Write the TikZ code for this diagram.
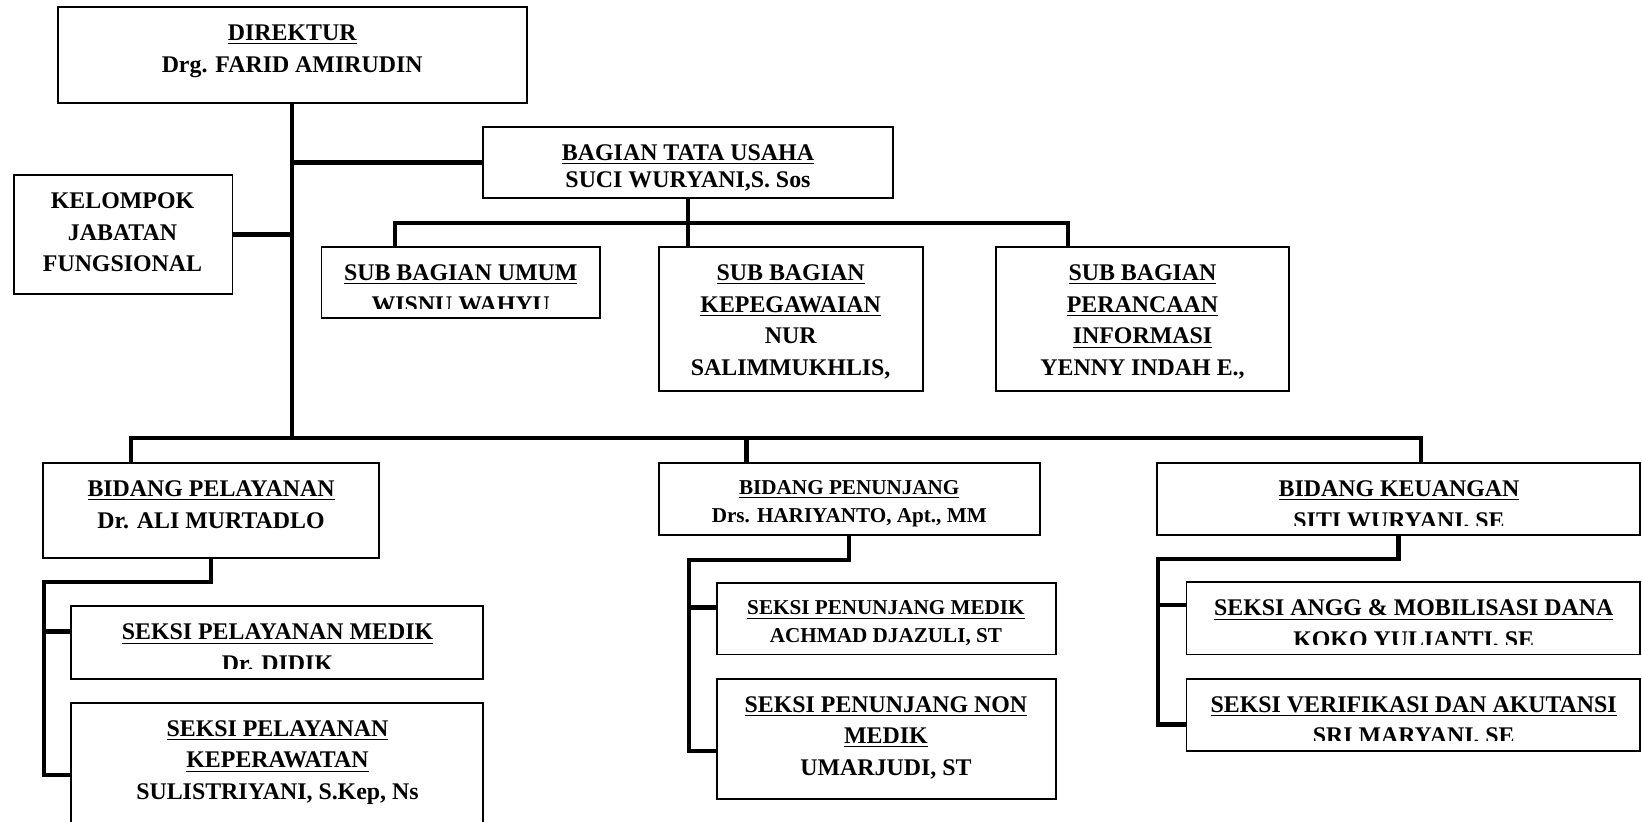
\documentclass[tikz,border=0pt]{standalone}
\usepackage{fontspec}
\setmainfont{Liberation Serif}
\usetikzlibrary{fit}
\tikzset{
  box/.style={draw, line width=0.9pt, inner sep=0pt, rectangle},
  conn/.style={line width=2.1pt},
  txt/.style={inner sep=0pt, anchor=north, align=center, font=\bfseries\fontsize{11.4}{15.1}\selectfont},
  txtb/.style={txt, font=\bfseries\fontsize{11.4}{13}\selectfont},
  txts/.style={txt, font=\bfseries\fontsize{10.1}{13.3}\selectfont},
}
\begin{document}
\begin{tikzpicture}[x=0.5pt, y=-0.5pt]
\useasboundingbox (0,0) rectangle (1568,784);

% ---------- boxes ----------
\node[box, fit={(55,7) (503,98)}] (dir) {};
\node[txt] (dirT) at (279,23.5) {\underline{DIREKTUR}\\Drg. FARID AMIRUDIN};

\node[box, fit={(461,121) (853,189)}] (btu) {};
\node[txtb] (btuT) at (657,137.5) {\underline{BAGIAN TATA USAHA}\\SUCI WURYANI,S. Sos};

\node[box, fit={(13,167) (222,281)}] (kjf) {};
\node[txt] (kjfT) at (117,183.5) {KELOMPOK\\JABATAN\\FUNGSIONAL};

\node[box, fit={(307,236) (573,304)}] (sbu) {};
\begin{scope}
  \clip (307,236) rectangle (573,294.5);
  \node[txt] (sbuT) at (440,252.5) {\underline{SUB BAGIAN UMUM}\\WISNU WAHYU};
\end{scope}

\node[box, fit={(629,236) (881,373)}] (sbk) {};
\node[txt] (sbkT) at (755,252.5) {\underline{SUB BAGIAN}\\\underline{KEPEGAWAIAN}\\NUR\\SALIMMUKHLIS,};

\node[box, fit={(951,236) (1231,373)}] (sbp) {};
\node[txt] (sbpT) at (1091,252.5) {\underline{SUB BAGIAN}\\\underline{PERANCAAN}\\\underline{INFORMASI}\\YENNY INDAH E.,};

\node[box, fit={(41,442) (362,533)}] (bp) {};
\node[txt] (bpT) at (201.5,458.5) {\underline{BIDANG PELAYANAN}\\Dr. ALI MURTADLO};

\node[box, fit={(629,442) (993,511)}] (bpen) {};
\node[txts] (bpenT) at (811,458.3) {\underline{BIDANG PENUNJANG}\\Drs. HARIYANTO, Apt., MM};

\node[box, fit={(1105,442) (1566,511)}] (bk) {};
\begin{scope}
  \clip (1105,442) rectangle (1566,501.5);
  \node[txt] (bkT) at (1336,458.5) {\underline{BIDANG KEUANGAN}\\SITI WURYANI, SE};
\end{scope}

\node[box, fit={(68,579) (461,648)}] (spm) {};
\begin{scope}
  \clip (68,579) rectangle (461,638.5);
  \node[txt] (spmT) at (265,595.5) {\underline{SEKSI PELAYANAN MEDIK}\\Dr. DIDIK};
\end{scope}

\node[box, fit={(68,671) (461,800)}] (spk) {};
\node[txt] (spkT) at (265,687.5) {\underline{SEKSI PELAYANAN}\\\underline{KEPERAWATAN}\\SULISTRIYANI, S.Kep, Ns};

\node[box, fit={(685,557) (1008,625)}] (spnm) {};
\node[txts, font=\bfseries\fontsize{10.1}{13}\selectfont] (spnmT) at (846,573.3) {\underline{SEKSI PENUNJANG MEDIK}\\ACHMAD DJAZULI, ST};

\node[box, fit={(685,648) (1008,763)}] (spnn) {};
\node[txt] (spnnT) at (846,664.5) {\underline{SEKSI PENUNJANG NON}\\\underline{MEDIK}\\UMARJUDI, ST};

\node[box, fit={(1133,556) (1566,625)}] (sag) {};
\begin{scope}
  \clip (1133,556) rectangle (1566,615.5);
  \node[txt] (sagT) at (1350,572.5) {\underline{SEKSI ANGG \& MOBILISASI DANA}\\KOKO YULIANTI, SE};
\end{scope}

\node[box, fit={(1133,648) (1566,717)}] (svr) {};
\begin{scope}
  \clip (1133,648) rectangle (1566,707.5);
  \node[txt] (svrT) at (1350,664.5) {\underline{SEKSI VERIFIKASI DAN AKUTANSI}\\SRI MARYANI, SE};
\end{scope}

% ---------- connectors ----------
\coordinate (busL) at (125,418);
\coordinate (busM) at (713,418);
\coordinate (busR) at (1357,418);
\draw[conn] (dir.south) -- (dir.south |- busL);
\draw[conn] (busL |- bp.north) -- (busL) -- (busR) -- (busR |- bk.north);
\draw[conn] (busM) -- (busM |- bpen.north);
\draw[conn] (dir.south |- btu.west) -- (btu.west);
\draw[conn] (kjf.east) -- (kjf.east -| dir.south);

\coordinate (sbL) at (377,213);
\coordinate (sbR) at (1020,213);
\draw[conn] (btu.south) -- (btu.south |- sbk.north);
\draw[conn] (sbL |- sbu.north) -- (sbL) -- (sbR) -- (sbR |- sbp.north);

\coordinate (pv) at (42,556);
\coordinate (pv1) at (42,603);
\coordinate (pv2) at (42,740);
\draw[conn] (bp.south) |- (pv) -- (pv2) -- (pv2 -| spk.west);
\draw[conn] (pv1) -- (pv1 -| spm.west);

\coordinate (nv) at (658,535);
\coordinate (nv1) at (658,580);
\coordinate (nv2) at (658,717);
\draw[conn] (bpen.south) |- (nv) -- (nv2) -- (nv2 -| spnn.west);
\draw[conn] (nv1) -- (nv1 -| spnm.west);

\coordinate (kv) at (1106,534);
\coordinate (kv1) at (1106,578);
\coordinate (kv2) at (1106,692);
\draw[conn] (bk.south) |- (kv) -- (kv2) -- (kv2 -| svr.west);
\draw[conn] (kv1) -- (kv1 -| sag.west);
\end{tikzpicture}
\end{document}
